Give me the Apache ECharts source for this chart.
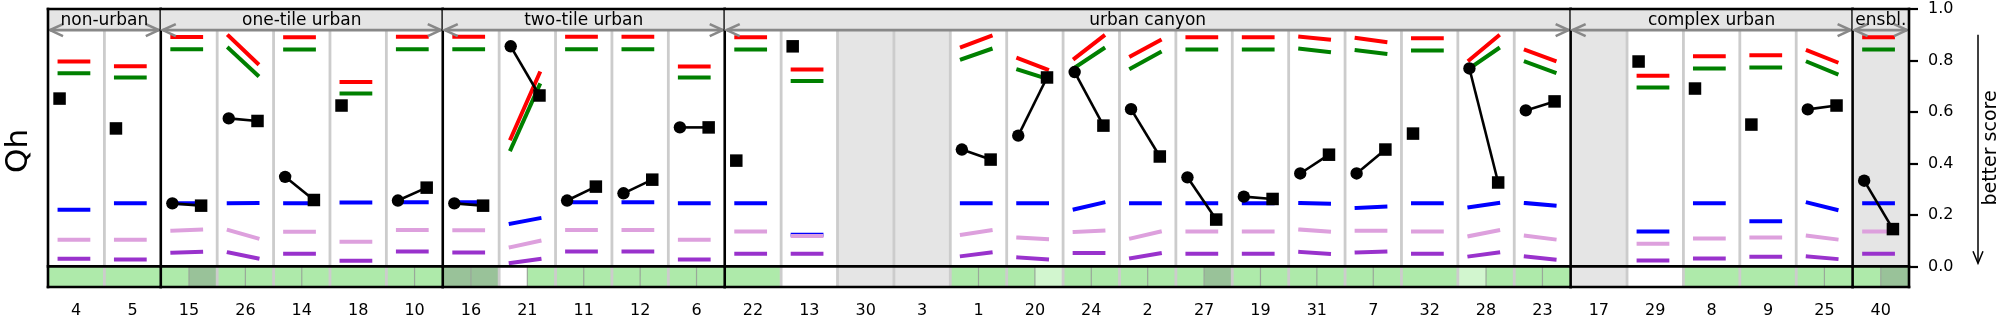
<!DOCTYPE html>
<html>
<head>
<meta charset="utf-8">
<script src="https://cdn.jsdelivr.net/npm/echarts@6/dist/echarts.min.js"></script>
<style>
  html, body { margin: 0; padding: 0; background: #ffffff; }
  #chart { width: 2005px; height: 325px; }
</style>
</head>
<body>
<div id="chart"></div>
<script>
// ---- data -----------------------------------------------------------------
const sites = ['4','5','15','26','14','18','10','16','21','11','12','6','22','13','30','3',
  '1','20','24','2','27','19','31','7','32','28','23','17','29','8','9','25','40'];
const groupNames = ['non-urban', 'one-tile urban', 'two-tile urban', 'urban canyon', 'complex urban', 'ensbl.'];
const groupSizes = [2, 5, 5, 15, 5, 1];
const shadedSites = ['30', '3', '17', '40'];

// benchmark levels: value at the left end and at the right end of each segment
const redFrom    = [.796,.778,.891,.895,.890,.716,.892,.892,.497,.892,.892,.777,.890,.765,null,null,.853,.808,.808,.817,.890,.890,.892,.887,.886,.802,.840,null,.741,.816,.820,.838,.890];
const redTo      = [.796,.778,.891,.789,.890,.716,.892,.892,.750,.892,.892,.777,.890,.765,null,null,.895,.765,.895,.878,.890,.890,.881,.872,.886,.895,.799,null,.741,.816,.820,.794,.890];
const greenFrom  = [.750,.734,.844,.847,.843,.672,.844,.844,.455,.844,.844,.734,.843,.720,null,null,.805,.764,.772,.770,.843,.843,.846,.840,.839,.769,.795,null,.695,.769,.773,.794,.843];
const greenTo    = [.750,.734,.844,.743,.843,.672,.844,.844,.704,.844,.844,.734,.843,.720,null,null,.844,.729,.846,.831,.843,.843,.833,.826,.839,.846,.754,null,.695,.769,.773,.748,.843];
const blueFrom   = [.220,.245,.245,.245,.245,.248,.249,.249,.166,.249,.249,.245,.245,.123,null,null,.245,.245,.222,.245,.245,.245,.246,.227,.245,.230,.246,null,.136,.245,.175,.248,.245];
const blueTo     = [.220,.245,.245,.246,.245,.248,.249,.249,.187,.249,.249,.245,.245,.123,null,null,.245,.245,.248,.245,.245,.245,.244,.232,.245,.246,.236,null,.136,.245,.175,.220,.245];
const plumFrom   = [.104,.104,.139,.141,.135,.096,.141,.140,.075,.141,.141,.104,.136,.118,null,null,.123,.112,.134,.109,.136,.136,.143,.139,.136,.118,.119,null,.088,.108,.112,.119,.136];
const plumTo     = [.104,.104,.143,.109,.135,.096,.141,.140,.099,.141,.141,.104,.136,.118,null,null,.140,.106,.139,.135,.136,.136,.135,.139,.136,.140,.105,null,.088,.108,.112,.105,.136];
const purpleFrom = [.030,.027,.053,.054,.049,.022,.058,.054,.013,.058,.058,.027,.049,.049,null,null,.040,.035,.052,.032,.049,.049,.056,.054,.049,.039,.039,null,.023,.031,.038,.039,.049];
const purpleTo   = [.030,.027,.057,.031,.049,.022,.058,.054,.029,.058,.058,.027,.049,.049,null,null,.054,.027,.052,.051,.049,.049,.049,.058,.049,.054,.027,null,.023,.031,.038,.029,.049];

// model scores: first stage (circle) and second stage (square)
const scoreFirst  = [null,null,.245,.575,.348,null,.256,.245,.855,.256,.284,.540,null,null,null,null,.454,.508,.755,.611,.346,.271,.361,.361,null,.769,.606,null,null,null,null,.610,.333];
const scoreSecond = [.652,.536,.236,.565,.258,.625,.306,.236,.664,.310,.337,.540,.411,.855,null,null,.415,.734,.547,.427,.182,.262,.434,.454,.516,.326,.641,null,.796,.691,.551,.625,.145];

// rank class shown in the strip below zero (left half / right half)
const stripLeft  = ['mid','mid','mid','mid','mid','mid','mid','high','none','mid','mid','mid','mid','none','na','na',
  'mid','mid','mid','mid','mid','mid','mid','mid','mid','low','mid','na','none','mid','mid','mid','mid'];
const stripRight = [null,null,'high','mid','mid',null,'mid','high','mid','mid','mid','mid',null,null,null,null,
  'mid','low','mid','mid','high','mid','mid','mid',null,'mid','mid',null,null,null,null,'mid','high'];

const yTicks = [0, 0.2, 0.4, 0.6, 0.8, 1.0];

// ---- styling ----------------------------------------------------------------
const Y_MIN = -0.08, Y_MAX = 1.0, HEAD = 0.918, HEAD_TEXT = 0.956;
const FONT = 'DejaVu Sans';
const GRAY_BG = '#e5e5e5';
const SHADE = { mid: '#aeeaaa', high: '#99c299', low: '#d2f6cf', none: '#ffffff', na: GRAY_BG };
const LEFT_OFF = -0.295, RIGHT_OFF = 0.215;
const levels = [
  { from: redFrom, to: redTo, color: '#ff0000' },
  { from: greenFrom, to: greenTo, color: '#008000' },
  { from: blueFrom, to: blueTo, color: '#0000ff' },
  { from: plumFrom, to: plumTo, color: '#dda0dd' },
  { from: purpleFrom, to: purpleTo, color: '#9932cc' }
];

const groupStart = [];
(function () { let acc = 0; groupSizes.forEach(s => { groupStart.push(acc); acc += s; }); })();
const isGroupStart = new Set(groupStart);

function col(api, i) {
  const c = api.coord([i, 0]);
  const w = api.size([1, 0])[0];
  return { cx: c[0], left: c[0] - w / 2, right: c[0] + w / 2, w: w };
}
function yp(api, v) { return api.coord([0, v])[1]; }

// column backgrounds and the rank strip below zero
function renderCells(params, api) {
  const i = params.dataIndex;
  const e = col(api, i);
  const y0 = yp(api, 0), yMin = yp(api, Y_MIN), yHead = yp(api, HEAD);
  const kids = [];
  if (shadedSites.indexOf(sites[i]) >= 0) {
    kids.push({ type: 'rect', shape: { x: e.left, y: yHead, width: e.w + 0.5, height: y0 - yHead }, style: { fill: GRAY_BG } });
  }
  const L = stripLeft[i], R = stripRight[i];
  if (R == null) {
    kids.push({ type: 'rect', shape: { x: e.left, y: y0, width: e.w + 0.5, height: yMin - y0 }, style: { fill: SHADE[L] } });
  } else {
    kids.push({ type: 'rect', shape: { x: e.left, y: y0, width: e.w / 2 + 0.5, height: yMin - y0 }, style: { fill: SHADE[L] } });
    kids.push({ type: 'rect', shape: { x: e.cx, y: y0, width: e.w / 2 + 0.5, height: yMin - y0 }, style: { fill: SHADE[R] } });
  }
  return { type: 'group', children: kids };
}

// light separators between sites inside a group
function renderDividers(params, api) {
  const i = params.dataIndex;
  const e = col(api, i);
  const y0 = yp(api, 0), yMin = yp(api, Y_MIN), yHead = yp(api, HEAD);
  const kids = [];
  if (i > 0 && !isGroupStart.has(i)) {
    kids.push({ type: 'line', shape: { x1: e.left, y1: yMin, x2: e.left, y2: yHead }, style: { stroke: '#cccccc', lineWidth: 2.8 } });
  }
  if (stripRight[i] != null) {
    kids.push({ type: 'line', shape: { x1: e.cx, y1: y0, x2: e.cx, y2: yMin }, style: { stroke: '#9aa89a', lineWidth: 1.2 } });
  }
  return { type: 'group', children: kids };
}

// coloured benchmark segments
function renderLevels(params, api) {
  const i = params.dataIndex;
  const e = col(api, i);
  const kids = [];
  levels.forEach(lv => {
    const a = lv.from[i], b = lv.to[i];
    if (a == null || b == null) return;
    kids.push({
      type: 'line',
      shape: { x1: e.cx + LEFT_OFF * e.w, y1: yp(api, a), x2: e.cx + RIGHT_OFF * e.w, y2: yp(api, b) },
      style: { stroke: lv.color, lineWidth: 4, lineCap: 'square' }
    });
  });
  return { type: 'group', children: kids };
}

// model scores: circle -> square
function renderScores(params, api) {
  const i = params.dataIndex;
  const e = col(api, i);
  const a = scoreFirst[i], b = scoreSecond[i];
  const kids = [];
  const xl = e.cx + LEFT_OFF * e.w, xr = e.cx + RIGHT_OFF * e.w;
  const sq = 12.5;
  if (a != null && b != null) {
    const ya = yp(api, a), yb = yp(api, b);
    kids.push({ type: 'line', shape: { x1: xl, y1: ya, x2: xr, y2: yb }, style: { stroke: '#000', lineWidth: 2.6 } });
    kids.push({ type: 'circle', shape: { cx: xl, cy: ya, r: 6.2 }, style: { fill: '#000' } });
    kids.push({ type: 'rect', shape: { x: xr - sq / 2, y: yb - sq / 2, width: sq, height: sq }, style: { fill: '#000' } });
  } else if (b != null) {
    const yb = yp(api, b);
    kids.push({ type: 'rect', shape: { x: xl - sq / 2, y: yb - sq / 2, width: sq, height: sq }, style: { fill: '#000' } });
  }
  return { type: 'group', children: kids };
}

// group headers, arrows and the black frame
function renderGroups(params, api) {
  const k = params.dataIndex;
  const first = groupStart[k], last = groupStart[k] + groupSizes[k] - 1;
  const left = col(api, first).left, right = col(api, last).right;
  const yTop = yp(api, Y_MAX), y0 = yp(api, 0), yMin = yp(api, Y_MIN);
  const yHead = yp(api, HEAD), yText = yp(api, HEAD_TEXT);
  const black = { stroke: '#000', lineWidth: 2.6, lineCap: 'square' };
  const arrow = { stroke: '#888888', lineWidth: 2.6, fill: null };
  const kids = [];
  kids.push({ type: 'rect', shape: { x: left, y: yTop, width: right - left, height: yHead - yTop }, style: { fill: GRAY_BG } });
  const al = left + 2, ar = right - 2, hl = 13, hw = 6;
  kids.push({ type: 'line', shape: { x1: al, y1: yHead, x2: ar, y2: yHead }, style: arrow });
  kids.push({ type: 'polyline', shape: { points: [[al + hl, yHead - hw], [al, yHead], [al + hl, yHead + hw]] }, style: arrow });
  kids.push({ type: 'polyline', shape: { points: [[ar - hl, yHead - hw], [ar, yHead], [ar - hl, yHead + hw]] }, style: arrow });
  kids.push({
    type: 'text', x: (left + right) / 2, y: yText,
    style: { text: groupNames[k], fontSize: 17, fontFamily: FONT, fill: '#000', align: 'center', verticalAlign: 'middle' }
  });
  kids.push({ type: 'line', shape: { x1: left, y1: yTop, x2: right, y2: yTop }, style: black });
  kids.push({ type: 'line', shape: { x1: left, y1: y0, x2: right, y2: y0 }, style: black });
  kids.push({ type: 'line', shape: { x1: left, y1: yMin, x2: right, y2: yMin }, style: black });
  kids.push({ type: 'line', shape: { x1: right, y1: yTop, x2: right, y2: yMin }, style: black });
  if (k === 0) kids.push({ type: 'line', shape: { x1: left, y1: yTop, x2: left, y2: yMin }, style: black });
  return { type: 'group', children: kids };
}

const colData = sites.map((s, i) => [i, 0]);
const groupData = groupNames.map((g, k) => [groupStart[k], 0]);

const chart = echarts.init(document.getElementById('chart'));
const GRID = { left: 48, right: 96, top: 9, bottom: 38 };

chart.setOption({
  animation: false,
  backgroundColor: '#ffffff',
  grid: { left: GRID.left, right: GRID.right, top: GRID.top, bottom: GRID.bottom, containLabel: false },
  xAxis: {
    type: 'category', data: sites, boundaryGap: true,
    axisLine: { show: false },
    axisTick: { show: true, alignWithLabel: true, length: 10, lineStyle: { color: '#000', width: 2.2 } },
    axisLabel: { color: '#000', fontSize: 16, fontFamily: FONT, margin: 16, interval: 0 },
    splitLine: { show: false }
  },
  yAxis: {
    type: 'value', position: 'right', min: Y_MIN, max: Y_MAX,
    axisLine: { show: false },
    axisTick: { show: true, inside: false, length: 9, customValues: yTicks, lineStyle: { color: '#000', width: 2.2 } },
    axisLabel: { color: '#000', fontSize: 16, fontFamily: FONT, margin: 19, customValues: yTicks,
      formatter: v => v.toFixed(1) },
    splitLine: { show: false }
  },
  series: [
    { type: 'custom', name: 'cells', data: colData, renderItem: renderCells, z: 1, clip: false, silent: true },
    { type: 'custom', name: 'dividers', data: colData, renderItem: renderDividers, z: 2, clip: false, silent: true },
    { type: 'custom', name: 'levels', data: colData, renderItem: renderLevels, z: 3, clip: false, silent: true },
    { type: 'custom', name: 'scores', data: colData, renderItem: renderScores, z: 4, clip: false, silent: true },
    { type: 'custom', name: 'groups', data: groupData, renderItem: renderGroups, z: 5, clip: false, silent: true }
  ]
});

// axis titles and the "better score" direction arrow
const arrowX = chart.getWidth() - GRID.right + 69;
const yA = chart.convertToPixel({ yAxisIndex: 0 }, 0.9);
const yB = chart.convertToPixel({ yAxisIndex: 0 }, 0.012);
const midY = (chart.convertToPixel({ yAxisIndex: 0 }, Y_MAX) + chart.convertToPixel({ yAxisIndex: 0 }, Y_MIN)) / 2;
chart.setOption({
  graphic: [
    { type: 'text', x: 19, y: midY + 3, rotation: Math.PI / 2,
      style: { text: 'Qh', fontSize: 31, fontFamily: FONT, fill: '#000', align: 'center', verticalAlign: 'middle' } },
    { type: 'text', x: arrowX + 13, y: midY, rotation: Math.PI / 2,
      style: { text: 'better score', fontSize: 19, fontFamily: FONT, fill: '#000', align: 'center', verticalAlign: 'middle' } },
    { type: 'line', shape: { x1: arrowX, y1: yA, x2: arrowX, y2: yB }, style: { stroke: '#000', lineWidth: 1.5 } },
    { type: 'polyline', shape: { points: [[arrowX - 5, yB - 12], [arrowX, yB], [arrowX + 5, yB - 12]] },
      style: { stroke: '#000', lineWidth: 1.5, fill: null } }
  ]
});
</script>
</body>
</html>
